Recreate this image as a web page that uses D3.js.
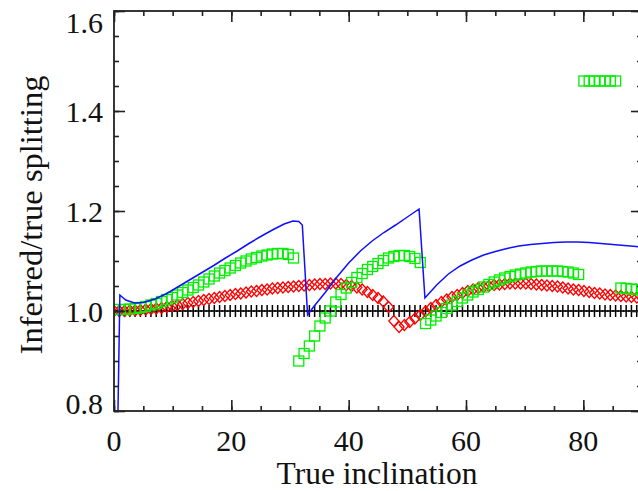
<!DOCTYPE html>
<html>
<head>
<meta charset="utf-8">
<script src="https://cdn.jsdelivr.net/npm/d3@7"></script>
<style>
  body { margin: 0; background: #fff; }
</style>
</head>
<body>
<div id="chart"></div>
<script>
// inclination grid shared by the marker series (degrees)
var inclination = [0, 0.9, 1.8, 2.7, 3.6, 4.5, 5.4, 6.3, 7.2, 8.1,
    9, 9.9, 10.8, 11.7, 12.6, 13.5, 14.4, 15.3, 16.2, 17.1,
    18, 18.9, 19.8, 20.7, 21.6, 22.5, 23.4, 24.3, 25.2, 26.1,
    27, 27.9, 28.8, 29.7, 30.6, 31.5, 32.4, 33.3, 34.2, 35.1,
    36, 36.9, 37.8, 38.7, 39.6, 40.5, 41.4, 42.3, 43.2, 44.1,
    45, 45.9, 46.8, 47.7, 48.6, 49.5, 50.4, 51.3, 52.2, 53.1,
    54, 54.9, 55.8, 56.7, 57.6, 58.5, 59.4, 60.3, 61.2, 62.1,
    63, 63.9, 64.8, 65.7, 66.6, 67.5, 68.4, 69.3, 70.2, 71.1,
    72, 72.9, 73.8, 74.7, 75.6, 76.5, 77.4, 78.3, 79.2, 80.1,
    81, 81.9, 82.8, 83.7, 84.6, 85.5, 86.4, 87.3, 88.2, 89.1, 90];

// black plus signs (reference ratio)
var plusVals = [1, 1, 1, 1, 1, 1, 1, 1, 1, 1, 1, 1, 1, 1, 1, 1, 1, 1, 1, 1,
    1, 1, 1, 1, 1, 1, 1, 1, 1, 1, 1, 1, 1, 1, 1, 1, 1, 1, 1, 1,
    1, 1, 1, 1, 1, 1, 1, 1, 1, 1, 1, 1, 1, 1, 1, 1, 1, 1, 1, 1,
    1, 1, 1, 1, 1, 1, 1, 1, 1, 1, 1, 1, 1, 1, 1, 1, 1, 1, 1, 1,
    1, 1, 1, 1, 1, 1, 1, 1, 1, 1, 1, 1, 1, 1, 1, 1, 1, 1, 1, 1, 1];

// red diamonds
var diamondVals = [1.000, 1.000, 1.000, 1.001, 1.001, 1.002, 1.003, 1.004, 1.005, 1.006,
    1.008, 1.010, 1.012, 1.014, 1.016, 1.018, 1.020, 1.022, 1.024, 1.026,
    1.028, 1.030, 1.032, 1.034, 1.035, 1.037, 1.039, 1.040, 1.042, 1.043,
    1.045, 1.046, 1.047, 1.048, 1.049, 1.050, 1.051, 1.052, 1.053, 1.054,
    1.054, 1.055, 1.055, 1.054, 1.052, 1.050, 1.047, 1.043, 1.038, 1.032,
    1.026, 1.019, 1.008, 0.980, 0.968, 0.972, 0.978, 0.985, 0.992, 0.999,
    1.006, 1.012, 1.018, 1.023, 1.028, 1.032, 1.036, 1.040, 1.043, 1.046,
    1.048, 1.050, 1.052, 1.053, 1.054, 1.055, 1.055, 1.055, 1.055, 1.054,
    1.053, 1.052, 1.051, 1.050, 1.049, 1.047, 1.045, 1.043, 1.042, 1.040,
    1.038, 1.036, 1.035, 1.033, 1.032, 1.031, 1.030, 1.029, 1.028, 1.027, 1.026];

// green squares
var squareVals = [1.003, 1.003, 1.003, 1.004, 1.005, 1.007, 1.009, 1.012, 1.015, 1.019,
    1.023, 1.027, 1.032, 1.037, 1.042, 1.047, 1.052, 1.058, 1.064, 1.070,
    1.076, 1.081, 1.086, 1.091, 1.096, 1.100, 1.104, 1.107, 1.110, 1.112,
    1.114, 1.115, 1.115, 1.113, 1.106, 0.900, 0.915, 0.930, 0.950, 0.970,
    0.986, 1.000, 1.018, 1.033, 1.046, 1.057, 1.067, 1.075, 1.083, 1.089,
    1.095, 1.101, 1.106, 1.109, 1.111, 1.111, 1.109, 1.105, 1.097, 0.975,
    0.982, 0.990, 0.997, 1.005, 1.012, 1.019, 1.026, 1.032, 1.038, 1.043,
    1.048, 1.053, 1.058, 1.062, 1.066, 1.069, 1.072, 1.074, 1.076, 1.078,
    1.079, 1.080, 1.080, 1.080, 1.080, 1.079, 1.078, 1.076, 1.073, 1.460,
    1.460, 1.460, 1.460, 1.460, 1.460, 1.460, 1.046, 1.045, 1.044, 1.043, 1.042];

// blue line
var lineX = [0.4, 1.0, 2.0, 3.5, 5, 7, 9, 11, 13, 15, 17, 19, 21, 23, 25, 27, 29, 30.5, 31.5, 32.1,
    33.0, 34, 36, 38, 40, 42, 44, 46, 48, 50, 52,
    53, 55, 57, 59, 61, 63, 65, 67, 69, 71, 73, 75, 77, 79, 81, 83, 85, 87, 89, 90];
var lineY = [0.6, 1.032, 1.022, 1.016, 1.017, 1.024, 1.035, 1.049, 1.063, 1.077, 1.091, 1.106, 1.120, 1.135, 1.149, 1.162, 1.174, 1.180, 1.179, 1.172,
    0.992, 1.008, 1.037, 1.068, 1.096, 1.120, 1.140, 1.157, 1.172, 1.188, 1.204,
    1.026, 1.052, 1.074, 1.090, 1.102, 1.112, 1.119, 1.125, 1.130, 1.133, 1.135, 1.137, 1.138, 1.138, 1.137, 1.135, 1.133, 1.131, 1.129, 1.128];

// ticks
var xTicks = [0, 20, 40, 60, 80];
var xTickLabels = ["0", "20", "40", "60", "80"];
var yTicks = [0.8, 1.0, 1.2, 1.4, 1.6];
var yTickLabels = ["0.8", "1.0", "1.2", "1.4", "1.6"];

var W = 638, H = 491;
var pLeft = 114, pRight = 642, pTop = 11, pBottom = 411;
var serif = "'Liberation Serif', 'Times New Roman', Times, serif";

var svg = d3.select("#chart")
    .append("svg")
    .attr("width", W)
    .attr("height", H);

var x = d3.scaleLinear().domain([0, 90]).range([pLeft, pRight]);
var y = d3.scaleLinear().domain([0.8, 1.6]).range([pBottom, pTop]);

svg.append("clipPath")
    .attr("id", "plotclip")
    .append("rect")
    .attr("x", pLeft).attr("y", pTop)
    .attr("width", pRight - pLeft).attr("height", pBottom - pTop);

var plot = svg.append("g").attr("clip-path", "url(#plotclip)");

var markerData = inclination.map(function(d, i) {
    return {x: d, plus: plusVals[i], diamond: diamondVals[i], square: squareVals[i]};
});

// black plus signs
plot.selectAll(".plus")
    .data(markerData)
    .enter()
    .append("path")
    .attr("class", "plus")
    .attr("transform", function(d) { return "translate(" + x(d.x) + "," + y(d.plus) + ")"; })
    .attr("d", "M-3.5,0H3.5M0,-6V6")
    .attr("fill", "none")
    .attr("stroke", "#000")
    .attr("stroke-width", 1.5);

// red diamonds
plot.selectAll(".diamond")
    .data(markerData)
    .enter()
    .append("path")
    .attr("class", "diamond")
    .attr("transform", function(d) { return "translate(" + x(d.x) + "," + y(d.diamond) + ")"; })
    .attr("d", "M0,-5.5L5,0L0,5.5L-5,0Z")
    .attr("fill", "none")
    .attr("stroke", "#ff0000")
    .attr("stroke-width", 1.3);

// green squares
plot.selectAll(".square")
    .data(markerData)
    .enter()
    .append("rect")
    .attr("class", "square")
    .attr("x", function(d) { return x(d.x) - 5; })
    .attr("y", function(d) { return y(d.square) - 5; })
    .attr("width", 10)
    .attr("height", 10)
    .attr("fill", "none")
    .attr("stroke", "#00ee00")
    .attr("stroke-width", 1.3);

// blue line
var lineData = lineX.map(function(d, i) { return [d, lineY[i]]; });
plot.append("path")
    .datum(lineData)
    .attr("fill", "none")
    .attr("stroke", "#1010ff")
    .attr("stroke-width", 1.5)
    .attr("d", d3.line()
        .x(function(d) { return x(d[0]); })
        .y(function(d) { return y(d[1]); }));

// frame + ticks on all four sides, pointing inward
var axisColor = "#222";
function styleAxis(g) {
    g.select(".domain").remove();
    g.selectAll("line").attr("stroke", axisColor).attr("stroke-width", 1.6);
    g.selectAll("text").remove();
}
var xMinor = d3.range(0, 91, 5);
var yMinor = d3.range(0.8, 1.601, 0.05);

svg.append("g").attr("transform", "translate(0," + pBottom + ")")
    .call(d3.axisBottom(x).tickValues(xMinor).tickSize(-5)).call(styleAxis);
svg.append("g").attr("transform", "translate(0," + pBottom + ")")
    .call(d3.axisBottom(x).tickValues(xTicks).tickSize(-11)).call(styleAxis);
svg.append("g").attr("transform", "translate(0," + pTop + ")")
    .call(d3.axisTop(x).tickValues(xMinor).tickSize(-5)).call(styleAxis);
svg.append("g").attr("transform", "translate(0," + pTop + ")")
    .call(d3.axisTop(x).tickValues(xTicks).tickSize(-11)).call(styleAxis);
svg.append("g").attr("transform", "translate(" + pLeft + ",0)")
    .call(d3.axisLeft(y).tickValues(yMinor).tickSize(-5)).call(styleAxis);
svg.append("g").attr("transform", "translate(" + pLeft + ",0)")
    .call(d3.axisLeft(y).tickValues(yTicks).tickSize(-11)).call(styleAxis);
svg.append("g").attr("transform", "translate(" + pRight + ",0)")
    .call(d3.axisRight(y).tickValues(yMinor).tickSize(-5)).call(styleAxis);
svg.append("g").attr("transform", "translate(" + pRight + ",0)")
    .call(d3.axisRight(y).tickValues(yTicks).tickSize(-11)).call(styleAxis);

svg.append("rect")
    .attr("x", pLeft).attr("y", pTop)
    .attr("width", pRight - pLeft).attr("height", pBottom - pTop)
    .attr("fill", "none")
    .attr("stroke", axisColor)
    .attr("stroke-width", 1.8);

// tick labels
svg.selectAll(".xlab")
    .data(xTicks)
    .enter()
    .append("text")
    .attr("x", function(d) { return x(d); })
    .attr("y", pBottom + 40)
    .attr("text-anchor", "middle")
    .style("font-family", serif)
    .style("font-size", "30px")
    .style("fill", "#111")
    .text(function(d, i) { return xTickLabels[i]; });

svg.selectAll(".ylab")
    .data(yTicks)
    .enter()
    .append("text")
    // end labels are pulled inside the frame like the original
    .attr("x", pLeft - 11)
    .attr("y", function(d) { return Math.max(pTop + 11, Math.min(pBottom - 8, y(d))); })
    .attr("dy", "0.35em")
    .attr("text-anchor", "end")
    .style("font-family", serif)
    .style("font-size", "30px")
    .style("fill", "#111")
    .text(function(d, i) { return yTickLabels[i]; });

// axis titles
svg.append("text")
    .attr("x", 377)
    .attr("y", 484)
    .attr("text-anchor", "middle")
    .style("font-family", serif)
    .style("font-size", "31.5px")
    .style("fill", "#111")
    .text("True inclination");

svg.append("text")
    .attr("transform", "translate(42,215) rotate(-90)")
    .attr("text-anchor", "middle")
    .style("font-family", serif)
    .style("font-size", "32.5px")
    .style("fill", "#111")
    .text("Inferred/true splitting");
</script>
</body>
</html>
